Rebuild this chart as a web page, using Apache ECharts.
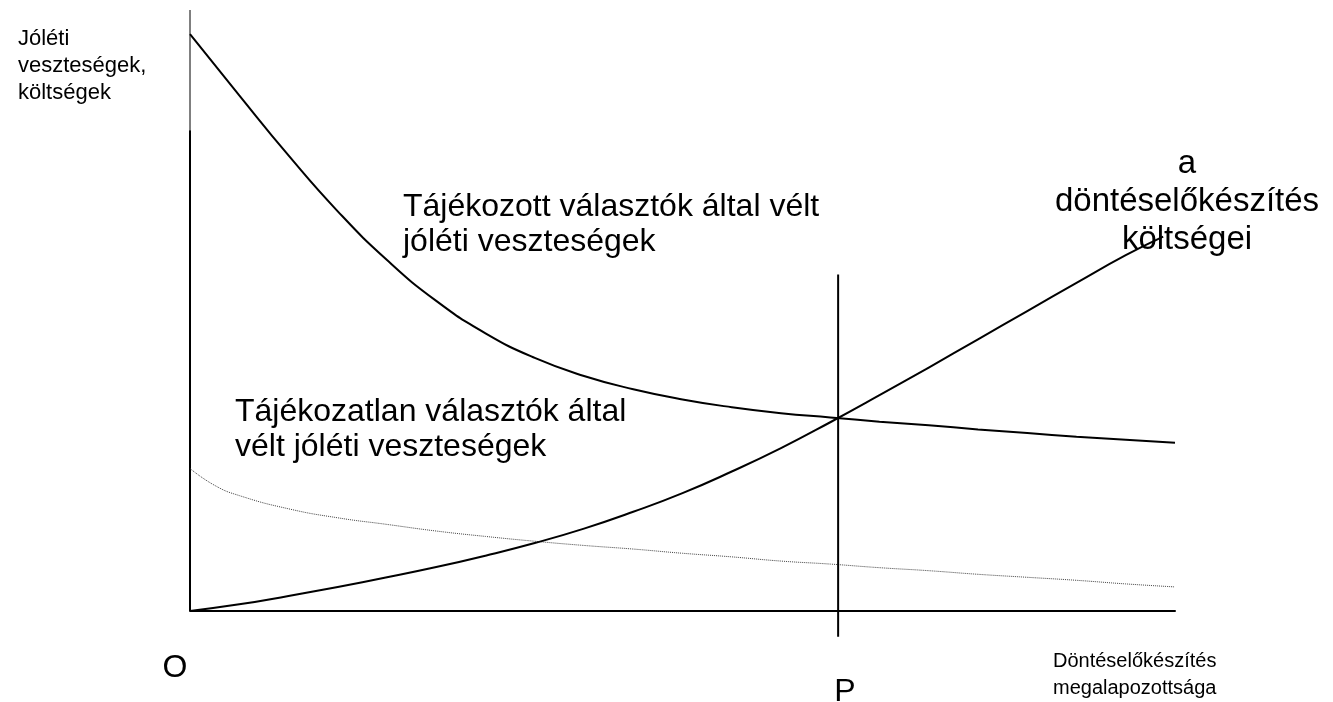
<!DOCTYPE html>
<html>
<head>
<meta charset="utf-8">
<script src="https://cdn.jsdelivr.net/npm/echarts@6/dist/echarts.min.js"></script>
<style>
  html, body { margin: 0; padding: 0; background: #fff; }
  #main { width: 1333px; height: 702px; }
</style>
</head>
<body>
<div id="main"></div>
<script>
// x: döntéselőkészítés megalapozottsága (0-100), y: jóléti veszteségek / költségek (0-100)
var informedX = [0, 5, 10, 15, 20, 25, 30, 35, 40, 45, 50, 55, 60, 65, 70, 75, 80, 85, 90, 95, 100]
var informedY = [96, 85.8, 75.8, 66.5, 58.4, 51.6, 46.2, 42.1, 39.1, 36.9, 35.2, 33.9, 32.9, 32.2, 31.5, 30.9, 30.2, 29.6, 29, 28.5, 28]

var uninformedX = [0, 2.5, 5, 10, 15, 20, 25, 30, 35, 40, 45, 50, 55, 60, 65, 70, 75, 80, 85, 90, 95, 100]
var uninformedY = [23.7, 20.9, 19.2, 17, 15.5, 14.4, 13.3, 12.4, 11.6, 10.9, 10.3, 9.6, 9, 8.3, 7.8, 7.2, 6.7, 6.1, 5.6, 5.1, 4.5, 4]

var costX = [0, 5, 10, 15, 20, 25, 30, 35, 40, 45, 50, 55, 60, 65, 70, 75, 80, 85, 90, 95, 98.8]
var costY = [0, 1.1, 2.5, 4, 5.6, 7.3, 9.2, 11.3, 13.7, 16.5, 19.6, 23.2, 27.1, 31.4, 35.9, 40.5, 45.2, 49.9, 54.6, 59.2, 62.3]

// P pont (optimum) és a függőleges vonal
var pValue = 65.8
var pLineY = [-4.3, 56]

// y tengely: vékony felső rész, vastag alsó rész
var yAxisTop = 100
var yAxisBreak = 80

function pairs(xs, ys) {
  return xs.map(function (x, i) { return [x, ys[i]] })
}

var font = "'Liberation Sans', Arial, sans-serif"
var black = '#000'

var option = {
  animation: false,
  backgroundColor: '#fff',
  grid: { left: 190, right: 158, top: 10, bottom: 61 },
  xAxis: {
    type: 'value',
    min: 0,
    max: 100,
    axisLine: { onZero: true, lineStyle: { color: black, width: 2 } },
    axisTick: { show: false },
    axisLabel: { show: false },
    splitLine: { show: false }
  },
  yAxis: {
    type: 'value',
    min: -5,
    max: 100,
    axisLine: { show: false },
    axisTick: { show: false },
    axisLabel: { show: false },
    splitLine: { show: false }
  },
  series: [
    {
      name: 'y tengely felső',
      type: 'line',
      data: [[0, yAxisBreak], [0, yAxisTop]],
      symbol: 'none',
      clip: false,
      lineStyle: { color: black, width: 1 }
    },
    {
      name: 'y tengely',
      type: 'line',
      data: [[0, 0], [0, yAxisBreak]],
      symbol: 'none',
      clip: false,
      lineStyle: { color: black, width: 2 }
    },
    {
      name: 'Tájékozott választók',
      type: 'line',
      data: pairs(informedX, informedY),
      smooth: true,
      symbol: 'none',
      clip: false,
      lineStyle: { color: black, width: 2 }
    },
    {
      name: 'Tájékozatlan választók',
      type: 'line',
      data: pairs(uninformedX, uninformedY),
      smooth: true,
      symbol: 'none',
      clip: false,
      lineStyle: { color: '#444', width: 1, type: 'dotted' }
    },
    {
      name: 'költségek',
      type: 'line',
      data: pairs(costX, costY),
      smooth: true,
      symbol: 'none',
      clip: false,
      lineStyle: { color: black, width: 2 }
    },
    {
      name: 'P',
      type: 'line',
      data: [[pValue, pLineY[0]], [pValue, pLineY[1]]],
      symbol: 'none',
      clip: false,
      lineStyle: { color: black, width: 2 }
    }
  ],
  graphic: [
    {
      type: 'text', left: 18, top: 25,
      style: { text: 'Jóléti\nveszteségek,\nköltségek', font: '22px ' + font, lineHeight: 27, fill: black }
    },
    {
      type: 'text', left: 403, top: 190,
      style: { text: 'Tájékozott választók által vélt\njóléti veszteségek', font: '32px ' + font, lineHeight: 35, fill: black }
    },
    {
      type: 'text', left: 235, top: 395,
      style: { text: 'Tájékozatlan választók által\nvélt jóléti veszteségek', font: '32px ' + font, lineHeight: 35, fill: black }
    },
    {
      type: 'text', x: 1187, y: 145,
      style: { text: 'a\ndöntéselőkészítés\nköltségei', font: '33px ' + font, lineHeight: 38, fill: black, align: 'center' }
    },
    {
      type: 'text', x: 175, y: 668,
      style: { text: 'O', font: '32px ' + font, fill: black, align: 'center', verticalAlign: 'middle' }
    },
    {
      type: 'text', x: 845, y: 692,
      style: { text: 'P', font: '32px ' + font, fill: black, align: 'center', verticalAlign: 'middle' }
    },
    {
      type: 'text', left: 1053, top: 648,
      style: { text: 'Döntéselőkészítés\nmegalapozottsága', font: '20px ' + font, lineHeight: 27, fill: black }
    }
  ]
}

var myChart = echarts.init(document.getElementById('main'))
myChart.setOption(option)
</script>
</body>
</html>
